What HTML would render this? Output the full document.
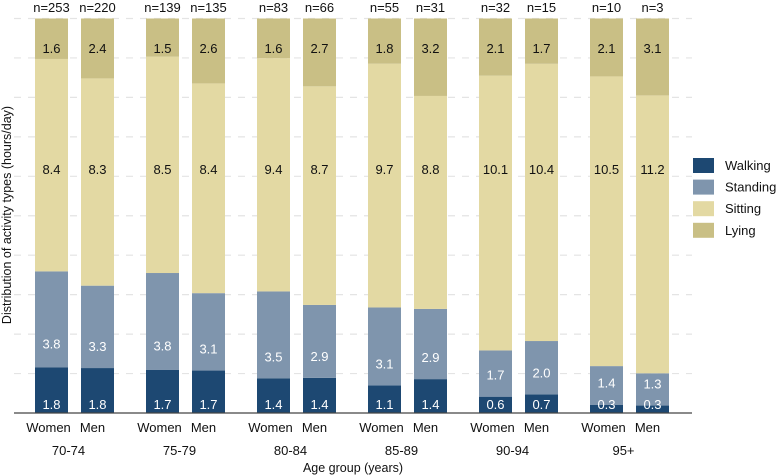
<!DOCTYPE html>
<html><head><meta charset="utf-8"><style>
body{margin:0;background:#fff;}
svg{display:block;font-family:"Liberation Sans",Arial,sans-serif;}
</style></head><body>
<svg id="chart" width="778" height="476">
<g id="grid"></g>
<g id="bars"></g>
<g id="labels"></g>
<line x1="14" x2="692" y1="413" y2="413" stroke="#444" stroke-width="1.2"/>
<text x="0" y="0" transform="translate(11,215) rotate(-90)" text-anchor="middle" font-size="12.5" fill="#111">Distribution of activity types (hours/day)</text>
<text x="353" y="472" text-anchor="middle" font-size="12.5" fill="#111">Age group (years)</text>
<g id="legend"></g>
</svg>
<script>
const groups=["70-74","75-79","80-84","85-89","90-94","95+"];
const sexes=["Women","Men"];
const nCounts=[253,220,139,135,83,66,55,31,32,15,10,3];
const walking=[1.8,1.8,1.7,1.7,1.4,1.4,1.1,1.4,0.6,0.7,0.3,0.3];
const standing=[3.8,3.3,3.8,3.1,3.5,2.9,3.1,2.9,1.7,2.0,1.4,1.3];
const sitting=[8.4,8.3,8.5,8.4,9.4,8.7,9.7,8.8,10.1,10.4,10.5,11.2];
const lying=[1.6,2.4,1.5,2.6,1.6,2.7,1.8,3.2,2.1,1.7,2.1,3.1];
const seriesNames=["Walking","Standing","Sitting","Lying"];
const colors=["#1d4872","#7f95ad","#e3d9a3","#c9bf85"];
const textColors=["#fff","#fff","#111","#111"];
const NS="http://www.w3.org/2000/svg";
const y0=413,y1=18.5;
const yScale=p=>y0-(y0-y1)*p;
const barX=i=>35+Math.floor(i/2)*111+(i%2)*46;
const bw=33;
function mk(tag,attrs,parent){const e=document.createElementNS(NS,tag);for(const k in attrs)e.setAttribute(k,attrs[k]);parent.appendChild(e);return e;}
const grid=document.getElementById('grid'),bars=document.getElementById('bars'),labels=document.getElementById('labels'),legend=document.getElementById('legend');
for(let k=1;k<=10;k++){
  const l=mk('line',{x1:14,x2:692,y1:yScale(k/10),y2:yScale(k/10),stroke:'#e4e4e4','stroke-width':1.2,'stroke-dasharray':'7,7'},grid);
  
  
}
const series=[walking,standing,sitting,lying];
for(let i=0;i<nCounts.length;i++){
  const vals=series.map(s=>s[i]);
  const tot=vals.reduce((a,b)=>a+b,0);
  let cum=0;const x=barX(i);
  vals.forEach((v,j)=>{
    const yb=yScale(cum/tot),yt=yScale((cum+v)/tot);cum+=v;
    const r=mk('rect',{x:x,y:yt,width:bw,height:yb-yt,fill:colors[j]},bars);
    
    
    let ty;
    if(j===0)ty=yb-4;else if(j===1)ty=Math.min(yt+(yb-yt)*0.75+5,yb-17);else if(j===2)ty=174;else ty=53;
    const t=mk('text',{x:x+bw/2,y:ty,'text-anchor':'middle','font-size':13,fill:textColors[j]},labels);
    t.textContent=v.toFixed(1);
    
    
  });
  const n=mk('text',{x:x+bw/2,y:12,'text-anchor':'middle','font-size':13,fill:'#111'},labels);
  n.textContent='n='+nCounts[i];
  
  
  const s=mk('text',{x:x+bw/2+(i%2?-5:-3),y:432,'text-anchor':'middle','font-size':13,fill:'#111'},labels);
  s.textContent=sexes[i%2];
  
  
}
groups.forEach((g,k)=>{
  const t=mk('text',{x:barX(2*k)+bw/2+17,y:455,'text-anchor':'middle','font-size':13,fill:'#111'},labels);
  t.textContent=g;
  
  
});
seriesNames.forEach((nm,j)=>{
  const y=158+j*21.6;
  const r=mk('rect',{x:693,y:y,width:21,height:15,fill:colors[j]},legend);
  
  
  const t=mk('text',{x:725,y:y+12,'font-size':13,fill:'#111'},legend);
  t.textContent=nm;
  
  
});
</script>
</body></html>
